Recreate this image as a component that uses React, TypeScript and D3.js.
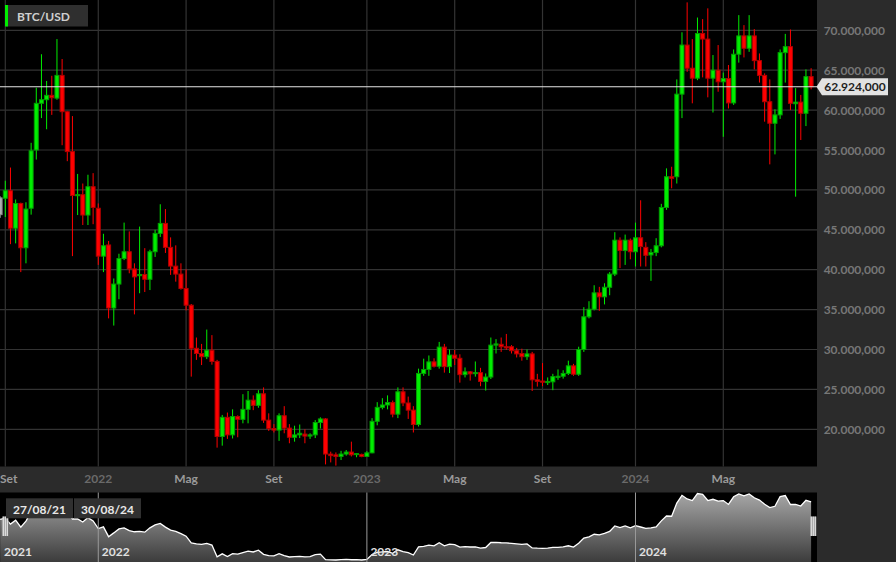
import React from "react";
import * as d3 from "d3";

// ---- Data (values in thousands of USD) ----
const openV = [46.9,48.95,49.9,45.2,48.3,42.75,47.7,55.0,60.85,61.3,61.85,61.5,64.35,59.8,54.8,49.3,49.4,46.85,50.4,47.7,41.7,43.1,35.2,38.2,41.4,42.25,40.1,39.25,39.4,38.8,42.25,44.55,45.8,42.8,40.45,39.45,37.65,35.55,30.15,29.5,29.1,29.9,28.5,19.1,21.5,19.3,21.6,21.25,22.5,23.65,23.0,24.45,21.15,20.1,19.9,21.7,20.15,19.0,19.3,19.4,19.15,19.3,20.85,21.3,16.9,16.8,16.6,16.9,17.15,16.85,16.85,16.6,17.05,21.0,22.75,23.05,23.35,21.9,24.7,23.3,22.4,20.6,27.0,27.5,28.45,27.9,30.3,27.85,29.3,28.9,26.85,27.2,27.0,27.1,26.0,26.55,30.55,30.65,30.35,30.35,29.85,29.5,29.1,29.45,26.2,26.05,25.85,25.95,26.5,26.65,27.0,27.95,26.9,30.0,34.1,35.05,37.1,36.6,37.8,39.45,43.7,42.4,43.7,42.25,44.0,42.8,41.85,42.15,43.0,47.8,51.65,51.65,62.0,68.15,65.25,64.0,69.6,68.9,64.0,65.0,63.55,63.95,60.9,67.0,69.3,67.75,69.3,66.2,64.35,61.05,58.35,59.4,67.2,67.95,60.8,61.0,59.6,64.2];
const highV = [49.2,51.15,52.8,48.8,48.4,48.45,55.9,62.8,67.0,63.65,64.3,68.9,66.4,59.9,59.25,52.0,50.8,51.9,52.1,48.3,44.5,43.6,38.9,42.0,45.9,44.8,40.8,45.4,42.7,42.5,45.0,48.2,47.6,44.05,43.05,40.8,40.05,35.7,31.5,30.7,32.5,31.8,28.7,21.8,22.1,22.5,21.75,24.4,24.8,24.25,24.9,25.25,22.0,20.65,22.0,22.9,20.65,20.45,20.6,20.0,19.5,21.15,21.5,21.4,17.2,17.1,17.3,17.4,18.45,17.0,16.95,17.25,21.4,23.4,23.9,24.25,23.6,25.25,25.25,24.1,22.9,27.6,28.85,29.25,28.9,30.95,30.7,30.0,29.95,29.4,27.75,27.3,28.5,27.7,27.0,31.5,31.3,31.5,31.95,30.55,30.2,30.1,30.0,29.7,26.95,28.3,26.5,26.95,27.5,27.4,28.6,28.2,30.35,35.3,36.05,38.05,37.85,38.3,39.7,44.7,44.05,44.4,43.9,45.9,48.7,43.45,42.6,43.95,48.25,52.7,52.9,63.85,69.75,73.5,68.9,71.6,71.4,72.75,66.9,68.15,64.7,65.65,67.6,71.9,70.65,71.9,70.15,67.1,64.6,63.85,60.1,67.6,69.55,70.1,62.75,61.9,65.1,65.25];
const lowV = [46.5,46.6,43.2,43.3,39.7,40.8,46.9,53.8,59.0,57.6,59.4,61.3,55.6,53.6,41.7,46.85,45.6,45.6,45.7,40.6,39.7,33.9,33.0,36.3,41.2,39.55,34.4,37.05,37.2,37.45,41.6,44.1,42.1,39.35,38.5,37.5,34.9,26.6,28.7,28.05,28.8,28.1,17.7,17.95,18.8,18.85,19.0,20.75,20.75,22.4,22.7,20.8,19.8,19.6,18.55,19.5,18.25,18.45,18.9,18.25,18.8,18.9,20.1,15.6,15.85,15.45,16.15,16.7,16.6,16.5,16.5,16.55,17.0,20.5,22.5,22.5,21.5,21.4,22.9,21.3,19.6,20.35,26.7,26.7,27.75,27.6,27.1,27.05,28.05,25.85,26.5,26.1,26.6,25.4,24.85,26.3,29.5,29.7,29.95,29.5,29.0,28.6,28.7,24.8,25.35,25.4,25.55,24.9,26.2,26.35,26.8,26.7,26.7,29.7,33.9,34.9,34.85,35.65,36.8,39.2,40.2,40.6,41.3,40.4,40.4,40.4,38.6,41.7,42.8,47.5,50.2,50.8,59.0,64.8,60.85,63.75,64.1,61.6,59.7,62.3,56.65,60.2,60.65,65.95,66.6,67.3,65.1,63.45,58.55,53.2,54.45,58.9,63.45,60.0,49.15,56.25,58.0,62.6];
const closeV = [49.0,49.9,45.2,48.3,42.75,47.6,54.9,60.85,61.3,61.85,61.55,64.35,59.8,54.8,49.3,49.4,46.85,50.4,47.8,41.7,43.0,35.2,38.2,41.4,42.25,40.1,39.1,39.4,38.8,42.25,44.55,45.8,42.8,40.45,39.45,37.65,35.55,30.15,29.5,29.1,29.9,28.5,19.1,21.5,19.3,21.6,21.25,22.5,23.65,23.0,24.45,21.15,20.1,19.9,21.7,20.15,19.0,19.3,19.5,19.15,19.3,20.85,21.3,16.9,16.7,16.6,16.9,17.15,16.8,16.95,16.6,17.05,21.0,22.75,23.05,23.35,21.9,24.7,23.3,22.4,20.6,27.0,27.5,28.45,27.9,30.3,27.85,29.3,28.9,26.85,27.2,26.95,27.1,26.0,26.55,30.55,30.7,30.35,30.2,29.85,29.45,29.1,29.45,26.2,26.0,25.9,26.0,26.6,26.65,27.0,27.95,26.9,30.0,34.1,35.05,37.1,36.6,37.8,39.45,43.7,42.4,43.7,42.25,44.0,42.9,41.8,42.15,43.0,47.8,51.65,51.45,62.0,68.15,65.25,64.0,69.6,68.9,64.0,65.0,63.55,63.95,60.9,67.0,69.3,67.75,69.3,66.2,64.35,61.05,58.35,59.4,67.2,67.95,60.85,61.0,59.6,64.2,62.924];

const symbol = "BTC/USD";
const startLabel = "27/08/21";
const endLabel = "30/08/24";
const yTicks = [20, 25, 30, 35, 40, 45, 50, 55, 60, 65, 70];
const itMonths = ["Gen","Feb","Mar","Apr","Mag","Giu","Lug","Ago","Set","Ott","Nov","Dic"];
const startDate = new Date(2021, 7, 27);

const W = 896, H = 562;
const PLOT_R = 817, PLOT_B = 466.5, NAV_T = 492.5, NAV_B = 562;
const GREEN = "#00ee00", RED = "#ff0000";

const itFmt = d3.formatLocale({ decimal: ",", thousands: ".", grouping: [3], currency: ["€", ""] }).format(",.3f");

export default function App() {
  const n = closeV.length;
  const dates = d3.range(n).map((i) => d3.timeDay.offset(startDate, 7 * i));
  const x = d3.scaleLinear().domain([1, 140]).range([5.3, 723.3]);
  const y = d3.scaleLinear().domain([20, 70]).range([429.3, 30.3]);
  const navY = d3.scaleLinear().domain([d3.min(closeV)!, d3.max(closeV)!]).range([560, 493.5]);

  const tickIdx = d3.range(n).filter((i) => {
    const d = dates[i];
    return [0, 4, 8].includes(d.getMonth()) && d.getDate() <= 7;
  });
  const yearIdx = tickIdx.filter((i) => dates[i].getMonth() === 0);

  const navArea = d3.area<number>().x((i) => x(i)).y0(NAV_B).y1((i) => navY(closeV[i]))(d3.range(n)) || "";
  const navLine = d3.line<number>().x((i) => x(i)).y((i) => navY(closeV[i]))(d3.range(n)) || "";

  const last = closeV[n - 1];
  const py = y(last);
  const bw = 4;

  return (
    <svg width={W} height={H} style={{ position: "fixed", left: 0, top: 0, fontFamily: "Lato, sans-serif" }}>
      <defs>
        <clipPath id="plot"><rect x={0} y={0} width={PLOT_R} height={PLOT_B} /></clipPath>
        <linearGradient id="navg" x1="0" y1={NAV_T} x2="0" y2={NAV_B} gradientUnits="userSpaceOnUse">
          <stop offset="0" stopColor="#a8a8a8" />
          <stop offset="1" stopColor="#3c3c3c" />
        </linearGradient>
      </defs>
      <rect x={0} y={0} width={W} height={H} fill="#2b2b2b" />
      <rect x={0} y={0} width={PLOT_R} height={PLOT_B} fill="#000" />
      {/* grid */}
      {yTicks.map((t) => (
        <line key={"gy" + t} x1={0} x2={PLOT_R} y1={y(t)} y2={y(t)} stroke="#333" strokeWidth={1.2} />
      ))}
      {tickIdx.map((i) => (
        <line key={"gx" + i} x1={x(i)} x2={x(i)} y1={0} y2={PLOT_B} stroke="#333" strokeWidth={1.2} />
      ))}
      {/* candles */}
      <g clipPath="url(#plot)">
        {d3.range(n).map((i) => {
          const o = openV[i], c = closeV[i];
          const up = c >= o;
          const col = i === 0 ? "#b0b0b0" : up ? GREEN : RED;
          const edge = i === 0 ? "#888" : up ? "#00a000" : "#b00000";
          const cx = x(i);
          const top = y(Math.max(o, c));
          const h = Math.max(1, y(Math.min(o, c)) - top);
          return (
            <g key={"c" + i}>
              <line x1={cx} x2={cx} y1={y(highV[i])} y2={y(lowV[i])} stroke={col} strokeWidth={1} />
              <rect x={cx - bw / 2} y={top} width={bw} height={h} fill={col} stroke={edge} strokeWidth={1} />
            </g>
          );
        })}
      </g>
      {/* current price line */}
      <line x1={0} x2={PLOT_R} y1={py} y2={py} stroke="#e6e6e6" strokeWidth={1.2} />
      {/* y axis labels */}
      {yTicks.map((t) => (
        <text key={"yl" + t} x={885} y={y(t) + 4.5} textAnchor="end" fill="#777" fontSize={12} fontWeight="bold">
          {itFmt(t * 1000)}
        </text>
      ))}
      <path d={`M${PLOT_R - 0.5},${py} L${822},${py - 8.5} L${888},${py - 8.5} L${888},${py + 8.5} L${822},${py + 8.5} Z`} fill="#e2e2e2" />
      <text x={855} y={py + 4.5} textAnchor="middle" fill="#1e1e1e" fontSize={12} fontWeight="bold">{itFmt(last * 1000)}</text>
      {/* x axis labels */}
      {tickIdx.map((i) => {
        const d = dates[i];
        const isYear = d.getMonth() === 0;
        const label = isYear ? String(d.getFullYear()) : itMonths[d.getMonth()];
        const cx = x(i);
        const atEdge = cx < 12;
        return (
          <text key={"xl" + i} x={atEdge ? 0 : cx} y={483} textAnchor={atEdge ? "start" : "middle"} fill={isYear ? "#6a6a6a" : "#9a9a9a"} fontSize={12} fontWeight="bold">
            {label}
          </text>
        );
      })}
      {/* navigator */}
      <rect x={0} y={NAV_T} width={PLOT_R} height={NAV_B - NAV_T} fill="#000" />
      <path d={navArea} fill="url(#navg)" />
      <path d={navLine} fill="none" stroke="#fff" strokeWidth={1.3} />
      {yearIdx.map((i) => (
        <g key={"ny" + i}>
          <line x1={x(i)} x2={x(i)} y1={NAV_T} y2={NAV_B} stroke="#9a9a9a" strokeWidth={1} />
          <text x={x(i) + 3.5} y={556} fill="#e0e0e0" fontSize={12} fontWeight="bold">{dates[i].getFullYear()}</text>
        </g>
      ))}
      <text x={4} y={556} fill="#e0e0e0" fontSize={12} fontWeight="bold">{startDate.getFullYear()}</text>
      {/* handles */}
      {[x(0) + 3, x(n - 1)].map((hx, k) => (
        <g key={"h" + k}>
          <rect x={hx - 0.5} y={516.5} width={6} height={19.5} fill="#777" />
          {[0, 2, 4].map((dx) => (
            <rect key={dx} x={hx - 0.5 + dx} y={516.5} width={1.1} height={19.5} fill="#fff" />
          ))}
        </g>
      ))}
      {/* date labels */}
      <rect x={6} y={498.3} width={67} height={20} fill="#303030" />
      <text x={39.5} y={513.5} textAnchor="middle" fill="#e8e8e8" fontSize={12} fontWeight="bold">{startLabel}</text>
      <rect x={74} y={498.3} width={67} height={20} fill="#303030" />
      <text x={107.5} y={513.5} textAnchor="middle" fill="#e8e8e8" fontSize={12} fontWeight="bold">{endLabel}</text>
      {/* symbol label */}
      <rect x={5} y={5} width={83} height={21.5} fill="#2f2f2f" />
      <rect x={5} y={5} width={3} height={21.5} fill="#00ee00" />
      <text x={17} y={20.5} fill="#cfcfcf" fontSize={12} fontWeight="bold">{symbol}</text>
    </svg>
  );
}
